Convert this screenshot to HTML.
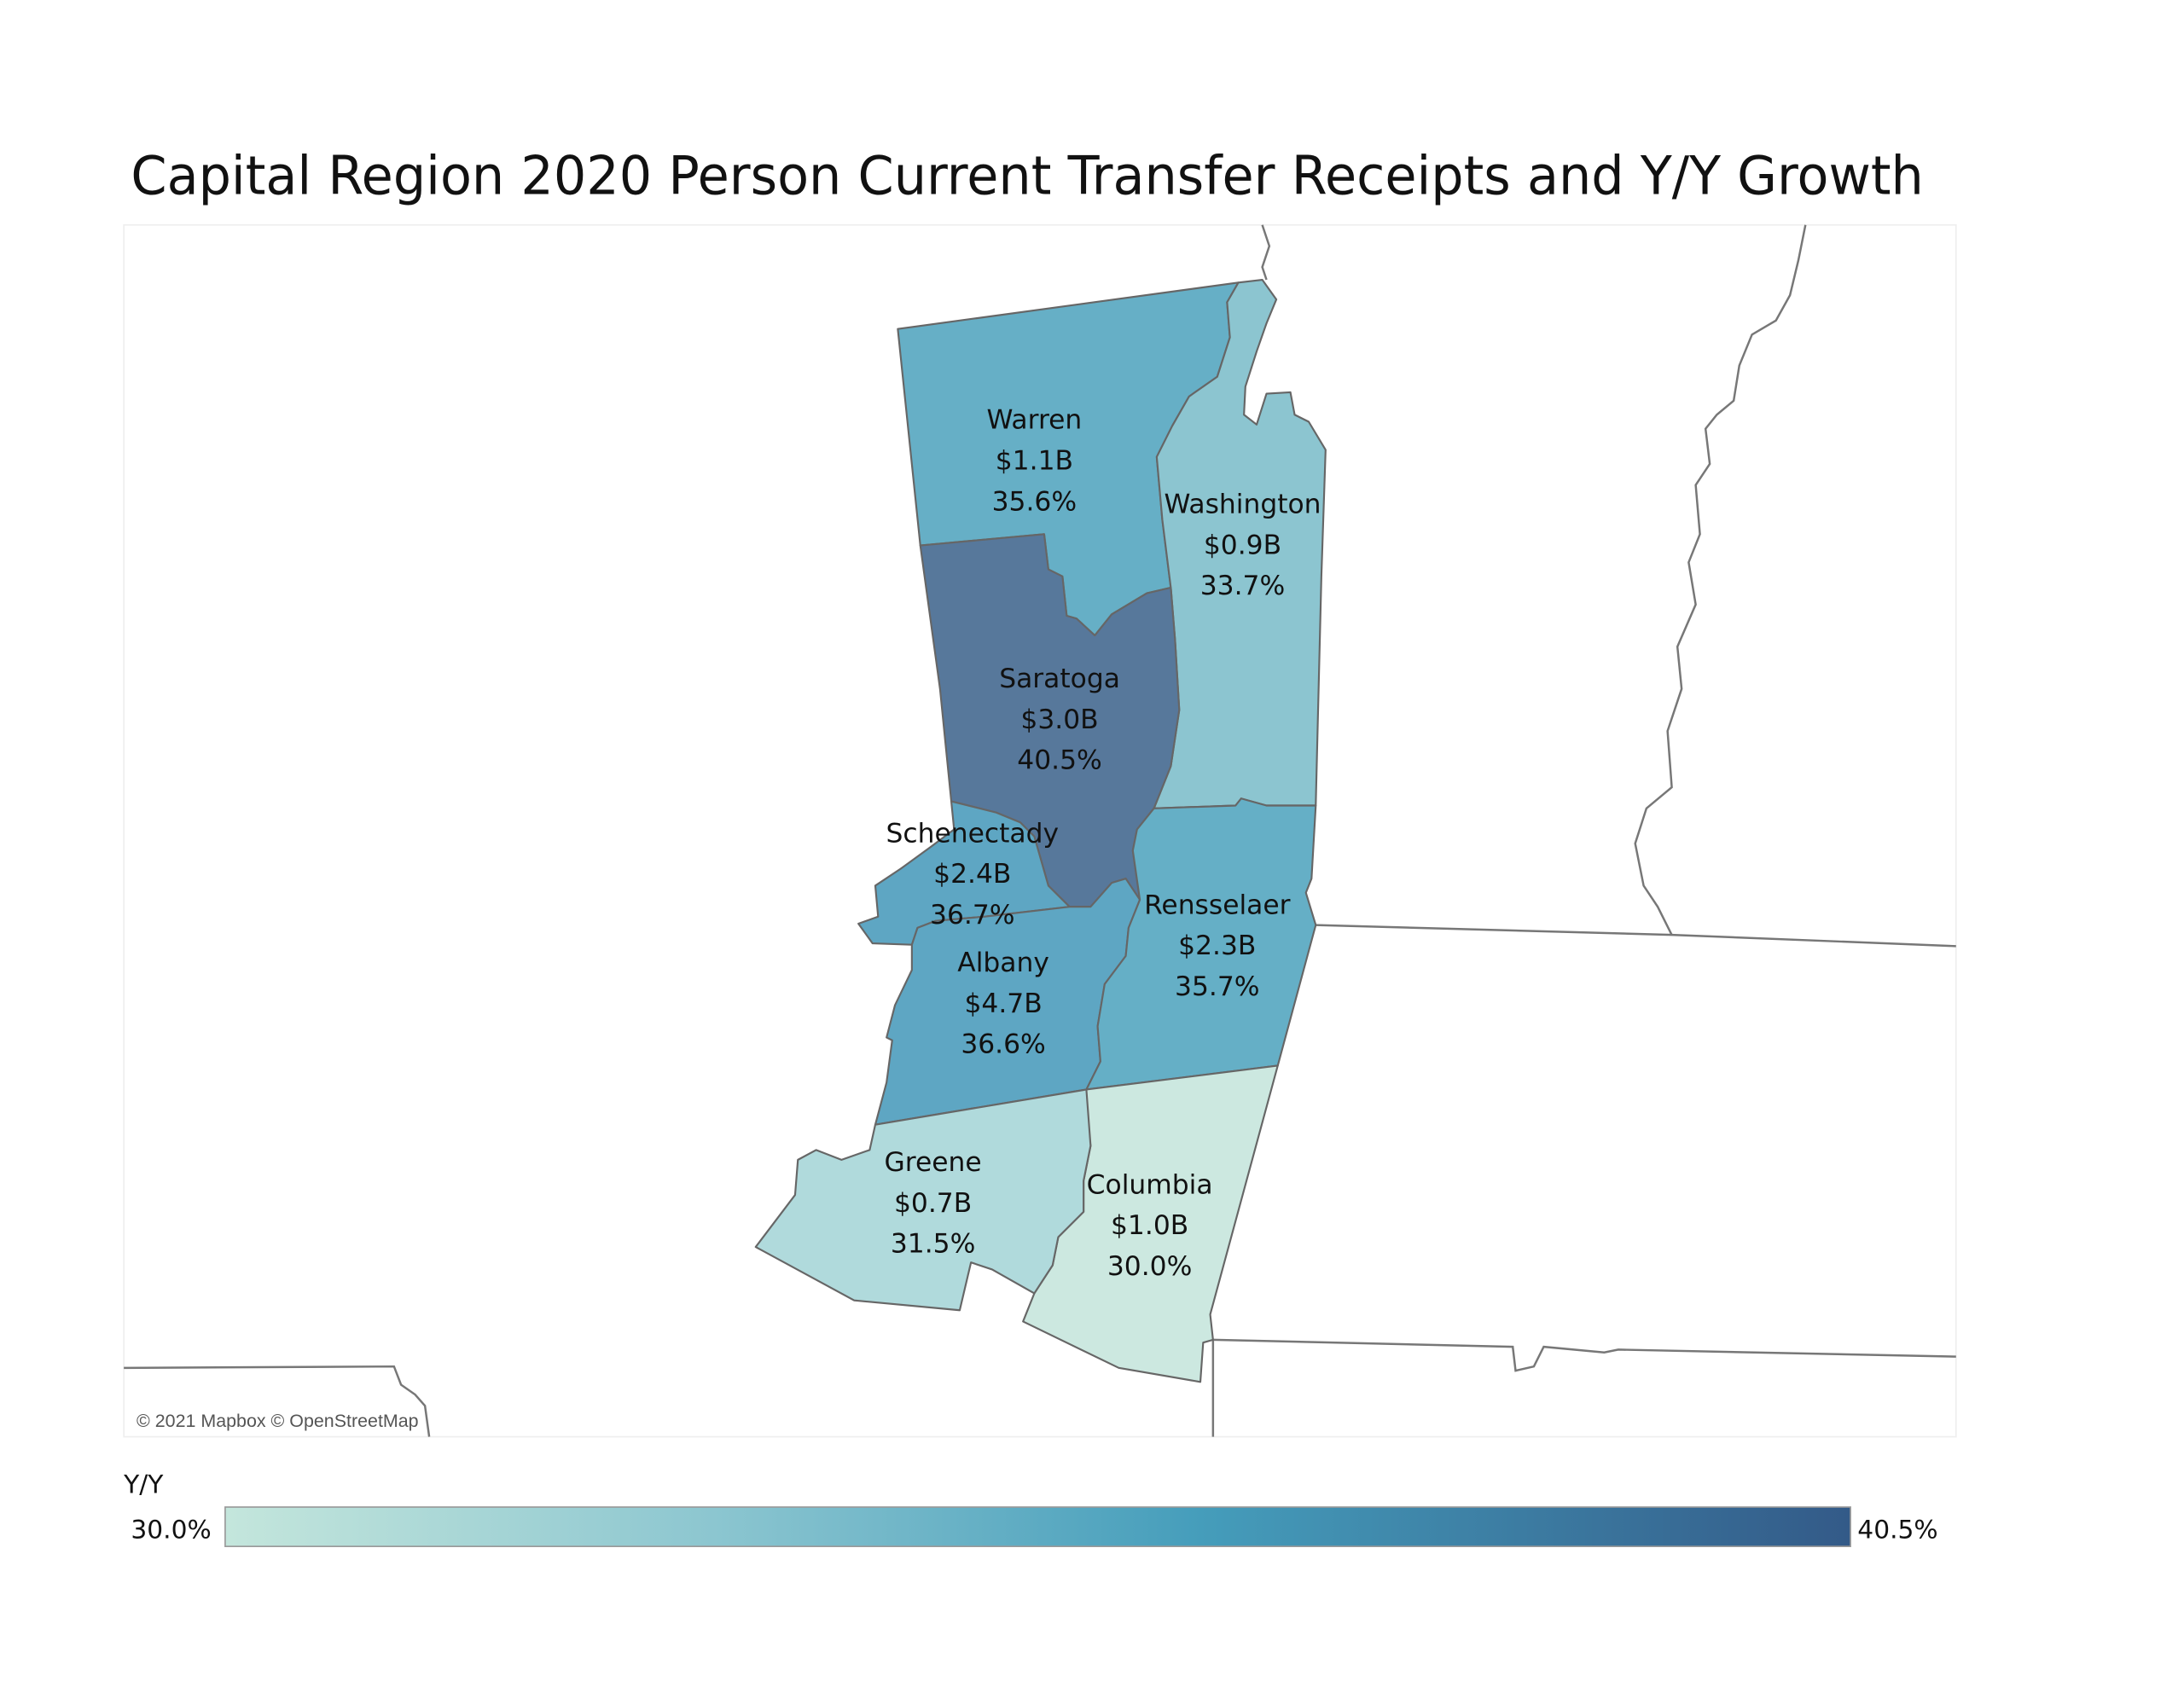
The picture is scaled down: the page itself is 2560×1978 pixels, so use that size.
<!DOCTYPE html>
<html><head><meta charset="utf-8"><style>
html,body{margin:0;padding:0;background:#fff;width:2560px;height:1978px;overflow:hidden}
svg{display:block}
text{font-family:"DejaVu Sans","Liberation Sans",sans-serif;fill:#111}
</style></head><body>
<svg width="2560" height="1978" viewBox="0 0 1552 1200" preserveAspectRatio="none" xmlns="http://www.w3.org/2000/svg">
<defs><linearGradient id="g" x1="0" x2="1" y1="0" y2="0">
<stop offset="0" stop-color="#c4e6dc"/><stop offset="0.3" stop-color="#8cc6d0"/><stop offset="0.6" stop-color="#459dbb"/><stop offset="1" stop-color="#335a88"/></linearGradient></defs>
<text x="93" y="138" style="font-size:38px" textLength="1274" lengthAdjust="spacingAndGlyphs">Capital Region 2020 Person Current Transfer Receipts and Y/Y Growth</text>
<rect x="88" y="160" width="1302" height="862" fill="#fff" stroke="#eee" stroke-width="1"/>
<g fill="none" stroke="#777" stroke-width="1.5">
<polyline points="897,160 902,175 897,190 900,199"/>
<polyline points="1283,160 1278,185 1272,210 1262,228 1245,238 1236,260 1232,285 1220,295 1212,305 1215,330 1205,345 1208,380 1200,400 1205,430 1192,460 1195,490 1185,520 1188,560 1170,575 1162,600 1168,630 1178,645 1188,665"/>
<polyline points="935,658 1188,665 1390,673"/>
<polyline points="862,953 1075,958 1077,975 1090,972 1097,958 1140,962 1150,960 1390,965"/>
<polyline points="862,953 862,1022"/>
<polyline points="88,973 280,972 285,985 295,992 302,1000 305,1022"/>
</g>
<g stroke="#666" stroke-width="1.3" stroke-linejoin="round">
<polygon fill="#66afc6" points="638,234 880,201 872,215 874,240 865,268 845,282 833,303 822,325 826,370 832,418 815,422 790,437 778,452 765,440 758,438 755,410 745,405 742,380 654,388"/>
<polygon fill="#8cc5d0" points="880,201 897,199 907,213 900,230 893,250 885,275 884,295 893,302 900,280 917,279 920,295 930,300 942,320 939,410 935,573 900,573 882,568 878,573 820,575 832,545 838,505 835,455 832,418 826,370 822,325 833,303 845,282 865,268 874,240 872,215"/>
<polygon fill="#57789b" points="654,388 742,380 745,405 755,410 758,438 765,440 778,452 790,437 815,422 832,418 835,455 838,505 832,545 820,575 808,590 805,605 810,640 800,625 790,628 775,645 760,645 745,630 735,595 725,585 708,578 676,570 668,490"/>
<polygon fill="#5ea6c3" points="676,570 708,578 725,585 735,595 745,630 760,645 700,652 665,655 652,660 648,672 620,671 610,657 624,652 622,630 640,618 662,602 678,590"/>
<polygon fill="#5ea6c3" points="648,672 652,660 665,655 700,652 760,645 775,645 790,628 800,625 810,640 802,660 800,680 785,700 780,730 782,755 772,775 622,800 630,770 634,740 630,738 636,715 648,690"/>
<polygon fill="#65afc6" points="820,575 878,573 882,568 900,573 935,573 932,625 928,635 935,658 908,758 772,775 782,755 780,730 785,700 800,680 802,660 810,640 805,605 808,590"/>
<polygon fill="#cce8e0" points="772,775 908,758 860,935 862,953 855,955 853,983 795,973 727,940 735,920 748,900 752,880 770,862 770,840 775,815 772,795"/>
<polygon fill="#b0dadc" points="622,800 772,775 775,815 770,840 770,862 752,880 748,900 735,920 705,903 690,898 682,932 607,925 537,887 565,850 567,825 580,818 598,825 618,818"/>
</g>
<g style="font-size:19px" text-anchor="middle">
<text x="735" y="305">Warren</text><text x="735" y="334">$1.1B</text><text x="735" y="363">35.6%</text>
<text x="883" y="365">Washington</text><text x="883" y="394">$0.9B</text><text x="883" y="423">33.7%</text>
<text x="753" y="489">Saratoga</text><text x="753" y="518">$3.0B</text><text x="753" y="547">40.5%</text>
<text x="691" y="599">Schenectady</text><text x="691" y="628">$2.4B</text><text x="691" y="657">36.7%</text>
<text x="865" y="650">Rensselaer</text><text x="865" y="679">$2.3B</text><text x="865" y="708">35.7%</text>
<text x="713" y="691">Albany</text><text x="713" y="720">$4.7B</text><text x="713" y="749">36.6%</text>
<text x="663" y="833">Greene</text><text x="663" y="862">$0.7B</text><text x="663" y="891">31.5%</text>
<text x="817" y="849">Columbia</text><text x="817" y="878">$1.0B</text><text x="817" y="907">30.0%</text>
</g>
<text x="97" y="1015" style="font-size:13px;font-family:'Liberation Sans',sans-serif;fill:#555">© 2021 Mapbox © OpenStreetMap</text>
<text x="88" y="1062" style="font-size:18px">Y/Y</text>
<rect x="160" y="1072" width="1155" height="28" fill="url(#g)" stroke="#999" stroke-width="1"/>
<text x="93" y="1094" style="font-size:18px">30.0%</text>
<text x="1320" y="1094" style="font-size:18px">40.5%</text>
</svg>
</body></html>
